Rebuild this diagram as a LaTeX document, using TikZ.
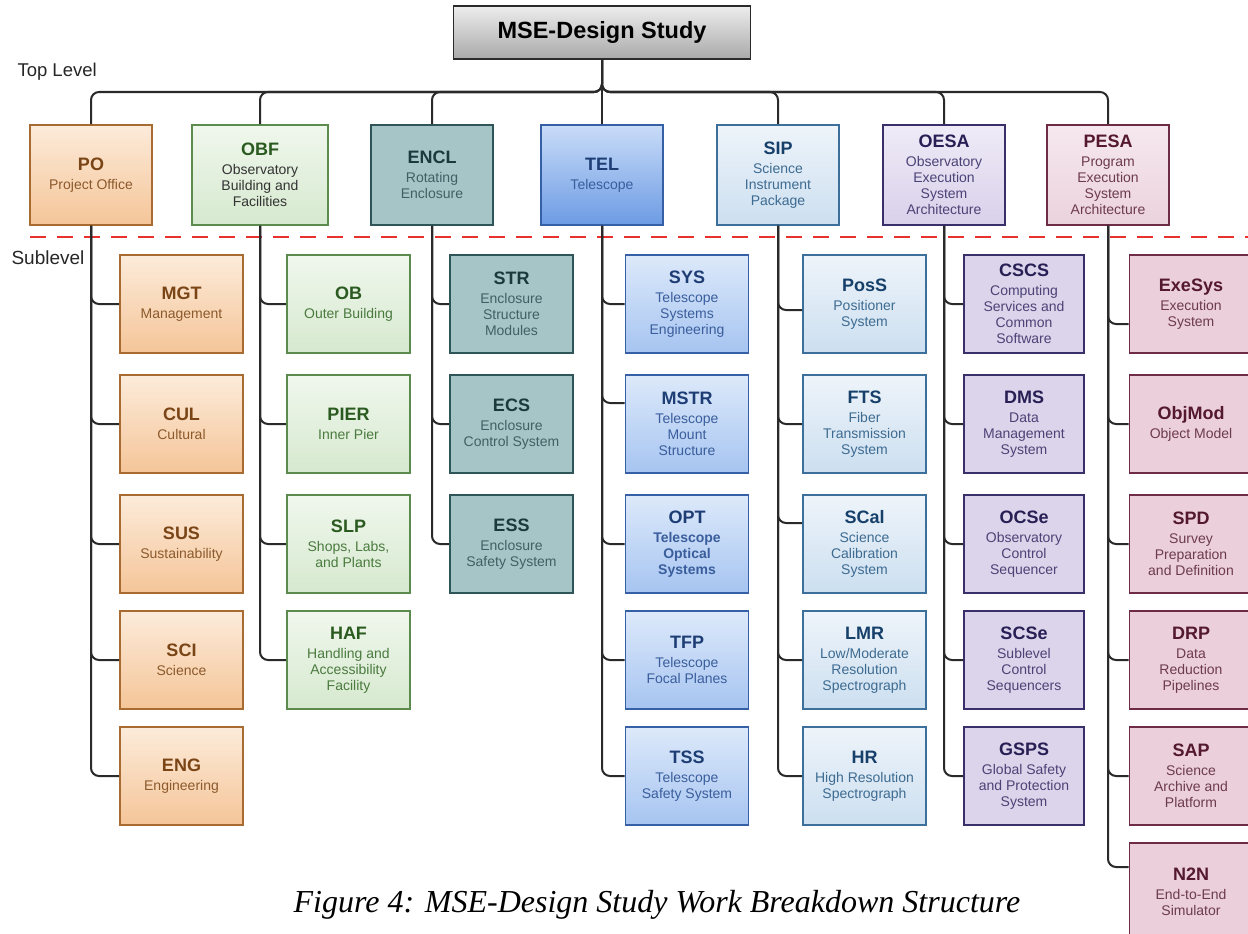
\documentclass[tikz,border=0pt]{standalone}
\usepackage{fontspec}
\setmainfont{Liberation Sans}
\newfontfamily\capfont{Liberation Serif}

\definecolor{wirecol}{HTML}{2A2A2A}
\definecolor{cutred}{HTML}{E8302C}
% title box
\definecolor{tTop}{HTML}{EDEDED}
\definecolor{tBot}{HTML}{A9A9A9}
% project office (orange)
\definecolor{poTop}{HTML}{FCEBDA}
\definecolor{poBot}{HTML}{F5C598}
\definecolor{poLine}{HTML}{A86B32}
\definecolor{poHd}{HTML}{7A4516}
\definecolor{poTxt}{HTML}{8C5A2C}
% observatory building (green)
\definecolor{obTop}{HTML}{F0F7ED}
\definecolor{obBot}{HTML}{D6E9CF}
\definecolor{obLine}{HTML}{5B8C4E}
\definecolor{obHd}{HTML}{2B5A20}
\definecolor{obTxt}{HTML}{4A7A3E}
% enclosure (teal)
\definecolor{enFill}{HTML}{A6C5C7}
\definecolor{enLine}{HTML}{2E5558}
\definecolor{enHd}{HTML}{1B3A3D}
\definecolor{enTxt}{HTML}{3F6165}
% telescope (blue)
\definecolor{teTop}{HTML}{C9DCF8}
\definecolor{teBot}{HTML}{6C9BE4}
\definecolor{teSTop}{HTML}{DDE9FA}
\definecolor{teSBot}{HTML}{A6C4F1}
\definecolor{teLine}{HTML}{3560A5}
\definecolor{teHd}{HTML}{1D3D74}
\definecolor{teTxt}{HTML}{3A5E9C}
% science instrument (light blue)
\definecolor{siTop}{HTML}{EEF4FA}
\definecolor{siBot}{HTML}{CCDFF0}
\definecolor{siLine}{HTML}{3C6F9A}
\definecolor{siHd}{HTML}{16406A}
\definecolor{siTxt}{HTML}{3D6B91}
% observatory execution (purple)
\definecolor{oeTop}{HTML}{EFEBF7}
\definecolor{oeBot}{HTML}{D9D0EA}
\definecolor{oeFill}{HTML}{DCD4EA}
\definecolor{oeLine}{HTML}{3A2F6A}
\definecolor{oeHd}{HTML}{281F55}
\definecolor{oeTxt}{HTML}{4C4276}
% program execution (pink)
\definecolor{peTop}{HTML}{F6E8EE}
\definecolor{peBot}{HTML}{EBD2DC}
\definecolor{peFill}{HTML}{EBCFDA}
\definecolor{peLine}{HTML}{6E2B46}
\definecolor{peHd}{HTML}{54182F}
\definecolor{peTxt}{HTML}{6D3B4E}

\colorlet{hd}{black}
\newcommand{\wbs}[2]{{\fontsize{18}{18}\selectfont\bfseries\color{hd}#1}\\[3pt]#2}

\tikzset{
  wire/.style={draw=wirecol,line width=2pt,rounded corners=8pt},
  box/.style={rectangle,line width=1.8pt,align=center,inner sep=0pt,
              minimum width=123pt,minimum height=98pt,
              font=\fontsize{14}{16}\selectfont},
  topbox/.style={box,minimum width=122pt,minimum height=100pt},
  po/.style={top color=poTop,bottom color=poBot,draw=poLine,text=poTxt,
             execute at begin node={\colorlet{hd}{poHd}}},
  ob/.style={top color=obTop,bottom color=obBot,draw=obLine,text=obTxt,
             execute at begin node={\colorlet{hd}{obHd}}},
  en/.style={fill=enFill,draw=enLine,text=enTxt,
             execute at begin node={\colorlet{hd}{enHd}}},
  te/.style={top color=teSTop,bottom color=teSBot,draw=teLine,text=teTxt,
             execute at begin node={\colorlet{hd}{teHd}}},
  teT/.style={te,top color=teTop,bottom color=teBot},
  si/.style={top color=siTop,bottom color=siBot,draw=siLine,text=siTxt,
             execute at begin node={\colorlet{hd}{siHd}}},
  oe/.style={fill=oeFill,draw=oeLine,text=oeTxt,
             execute at begin node={\colorlet{hd}{oeHd}}},
  oeT/.style={oe,top color=oeTop,bottom color=oeBot},
  pe/.style={fill=peFill,draw=peLine,text=peTxt,
             execute at begin node={\colorlet{hd}{peHd}}},
  peT/.style={pe,top color=peTop,bottom color=peBot},
}

\begin{document}
\begin{tikzpicture}[x=1pt,y=-1pt]
        \useasboundingbox (0,0) rectangle (1248,934);

        \def\yTop{175}                              % centre of the top level row
        \def\rA{304}                                % centres of the sublevel rows
        \def\rB{424}
        \def\rC{544}
        \def\rD{660}
        \def\rE{776}
        \def\rF{892}

        % Title and level labels
        \node[rectangle,draw=wirecol,line width=1.8pt,top color=tTop,bottom color=tBot,
              minimum width=297pt,minimum height=53pt,
              font=\fontsize{23.5}{25}\selectfont\bfseries] (title) at (602,32.5) {MSE-Design Study};
        \node[anchor=west,font=\fontsize{18.5}{20}\selectfont,text=black!85] (toplvl) at (14,71.5) {Top Level};
        \node[anchor=west,font=\fontsize{19}{20}\selectfont,text=black!85] (sublvl) at (8,258) {Sublevel};

        % Top level
        \node[topbox,po] (PO) at (91,\yTop) {\wbs{PO}{Project Office}};
        \node[topbox,ob,minimum width=136pt,text=black!80] (OBF) at (260,\yTop) {\wbs{OBF}{Observatory\\Building and\\Facilities}};
        \node[topbox,en] (ENCL) at (432,\yTop) {\wbs{ENCL}{Rotating\\Enclosure}};
        \node[topbox,teT] (TEL) at (602,\yTop) {\wbs{TEL}{Telescope}};
        \node[topbox,si] (SIP) at (778,\yTop) {\wbs{SIP}{Science\\Instrument\\Package}};
        \node[topbox,oeT] (OESA) at (944,\yTop) {\wbs{OESA}{Observatory\\Execution\\System\\Architecture}};
        \node[topbox,peT] (PESA) at (1108,\yTop) {\wbs{PESA}{Program\\Execution\\System\\Architecture}};

        % Boundary between the two levels
        \draw[cutred,line width=2pt,dash pattern=on 16pt off 11pt] (30,237) -- (1248,237);

        % Sublevel: project office
        \node[box,po] (MGT) at (181.5,\rA) {\wbs{MGT}{Management}};
        \node[box,po] (CUL) at (181.5,\rB) {\wbs{CUL}{Cultural}};
        \node[box,po] (SUS) at (181.5,\rC) {\wbs{SUS}{Sustainability}};
        \node[box,po] (SCI) at (181.5,\rD) {\wbs{SCI}{Science}};
        \node[box,po] (ENG) at (181.5,\rE) {\wbs{ENG}{Engineering}};

        % Sublevel: observatory building
        \node[box,ob] (OB) at (348.5,\rA) {\wbs{OB}{Outer Building}};
        \node[box,ob] (PIER) at (348.5,\rB) {\wbs{PIER}{Inner Pier}};
        \node[box,ob] (SLP) at (348.5,\rC) {\wbs{SLP}{Shops, Labs,\\and Plants}};
        \node[box,ob] (HAF) at (348.5,\rD) {\wbs{HAF}{Handling and\\Accessibility\\Facility}};

        % Sublevel: enclosure
        \node[box,en] (STR) at (511.5,\rA) {\wbs{STR}{Enclosure\\Structure\\Modules}};
        \node[box,en] (ECS) at (511.5,\rB) {\wbs{ECS}{Enclosure\\Control System}};
        \node[box,en] (ESS) at (511.5,\rC) {\wbs{ESS}{Enclosure\\Safety System}};

        % Sublevel: telescope
        \node[box,te] (SYS) at (687,\rA) {\wbs{SYS}{Telescope\\Systems\\Engineering}};
        \node[box,te] (MSTR) at (687,\rB) {\wbs{MSTR}{Telescope\\Mount\\Structure}};
        \node[box,te] (OPT) at (687,\rC) {\wbs{OPT}{\textbf{Telescope}\\\textbf{Optical}\\\textbf{Systems}}};
        \node[box,te] (TFP) at (687,\rD) {\wbs{TFP}{Telescope\\Focal Planes}};
        \node[box,te] (TSS) at (687,\rE) {\wbs{TSS}{Telescope\\Safety System}};

        % Sublevel: science instrument package
        \node[box,si] (PosS) at (864.5,\rA) {\wbs{PosS}{Positioner\\System}};
        \node[box,si] (FTS) at (864.5,\rB) {\wbs{FTS}{Fiber\\Transmission\\System}};
        \node[box,si] (SCal) at (864.5,\rC) {\wbs{SCal}{Science\\Calibration\\System}};
        \node[box,si] (LMR) at (864.5,\rD) {\wbs{LMR}{Low/Moderate\\Resolution\\Spectrograph}};
        \node[box,si] (HR) at (864.5,\rE) {\wbs{HR}{High Resolution\\Spectrograph}};

        % Sublevel: observatory execution
        \node[box,oe,minimum width=120pt] (CSCS) at (1024,\rA) {\wbs{CSCS}{Computing\\Services and\\Common\\Software}};
        \node[box,oe,minimum width=120pt] (DMS) at (1024,\rB) {\wbs{DMS}{Data\\Management\\System}};
        \node[box,oe,minimum width=120pt] (OCSe) at (1024,\rC) {\wbs{OCSe}{Observatory\\Control\\Sequencer}};
        \node[box,oe,minimum width=120pt] (SCSe) at (1024,\rD) {\wbs{SCSe}{Sublevel\\Control\\Sequencers}};
        \node[box,oe,minimum width=120pt] (GSPS) at (1024,\rE) {\wbs{GSPS}{Global Safety\\and Protection\\System}};

        % Sublevel: program execution (runs off the right edge)
        \node[box,pe] (ExeSys) at (1191,\rA) {\wbs{ExeSys}{Execution\\System}};
        \node[box,pe] (ObjMod) at (1191,\rB) {\wbs{ObjMod}{Object Model}};
        \node[box,pe] (SPD) at (1191,\rC) {\wbs{SPD}{Survey\\Preparation\\and Definition}};
        \node[box,pe] (DRP) at (1191,\rD) {\wbs{DRP}{Data\\Reduction\\Pipelines}};
        \node[box,pe] (SAP) at (1191,\rE) {\wbs{SAP}{Science\\Archive and\\Platform}};
        \node[box,pe] (N2N) at (1191,\rF) {\wbs{N2N}{End-to-End\\Simulator}};

        % Title to top level, through the bus
        \coordinate (bus) at (602,92);
        \draw[wire] (title.south) -- (TEL.north);
        \foreach \t in {PO,OBF,ENCL,SIP,OESA,PESA}
            \draw[wire] (title.south) -- (bus) -| (\t.north);

        % Top level to sublevel
        \foreach \s in {MGT,CUL,SUS,SCI,ENG}
            \draw[wire] (PO.south) |- (\s.west);
        \foreach \s in {OB,PIER,SLP,HAF}
            \draw[wire] (OBF.south) |- (\s.west);
        \foreach \s in {STR,ECS,ESS}
            \draw[wire] (ENCL.south) |- (\s.west);
        \foreach \s in {SYS,OPT,TFP,TSS}
            \draw[wire] (TEL.south) |- (\s.west);
        \draw[wire] (TEL.south) |- ([yshift=21pt]MSTR.west);
        \foreach \s in {FTS,LMR,HR}
            \draw[wire] (SIP.south) |- (\s.west);
        \draw[wire] (SIP.south) |- ([yshift=-6pt]PosS.west);
        \draw[wire] (SIP.south) |- ([yshift=21pt]SCal.west);
        \foreach \s in {CSCS,DMS,OCSe,SCSe,GSPS}
            \draw[wire] (OESA.south) |- (\s.west);
        \foreach \s in {ObjMod,SPD,DRP,SAP}
            \draw[wire] (PESA.south) |- (\s.west);
        \draw[wire] (PESA.south) |- ([yshift=-20pt]ExeSys.west);
        \draw[wire] (PESA.south) |- ([yshift=25pt]N2N.west);

        % Caption
        \node[anchor=base,font=\capfont\itshape\fontsize{32}{34}\selectfont] (caption) at (657,912)
            {Figure 4: MSE-Design Study Work Breakdown Structure};
\end{tikzpicture}
\end{document}
